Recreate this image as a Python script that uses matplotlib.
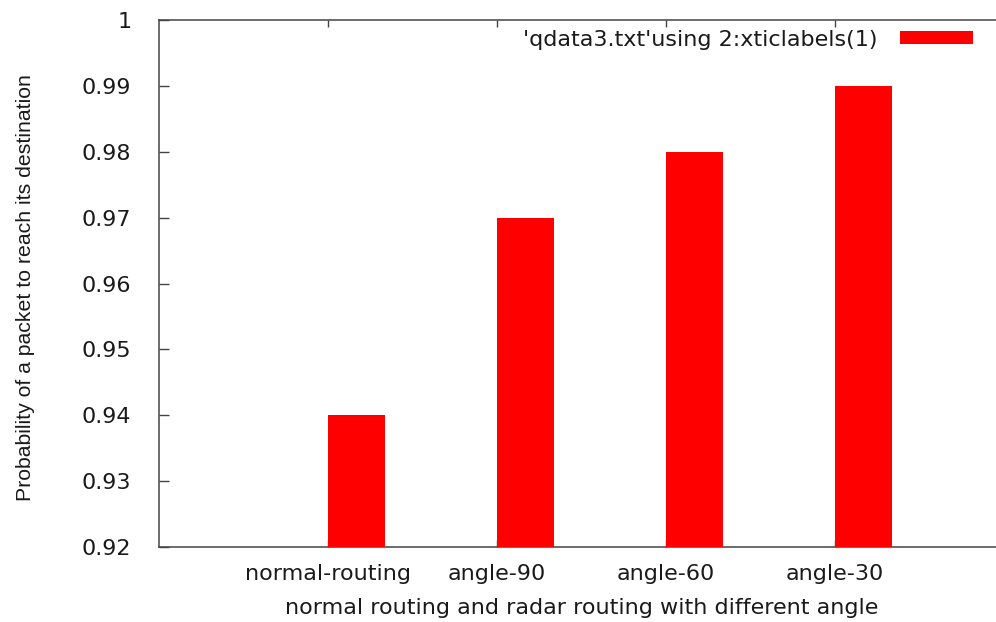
import matplotlib
matplotlib.use("Agg")
import matplotlib.pyplot as plt
from matplotlib.patches import Patch
from matplotlib.ticker import FuncFormatter

categories = ["normal-routing", "angle-90", "angle-60", "angle-30"]
probabilities = [0.94, 0.97, 0.98, 0.99]
y_ticks = [0.92, 0.93, 0.94, 0.95, 0.96, 0.97, 0.98, 0.99, 1.0]
series_label = "'qdata3.txt'using 2:xticlabels(1)"

plt.rcParams["font.family"] = ["DejaVu Sans"]
text_color = "#1a1a1a"
axis_color = "#444444"
fs = 16

fig = plt.figure(figsize=(9.96, 6.22), dpi=100)
ax = fig.add_axes([159 / 996, 75 / 622, 845 / 996, 527 / 622])

x = list(range(len(categories)))
ax.bar(x, probabilities, width=0.337, align="edge", color="#ff0000",
       zorder=3, linewidth=0)

ax.set_xlim(-1, 4)
ax.set_ylim(0.92, 1.0)
ax.set_xticks(x)
ax.set_xticklabels(categories)
ax.set_yticks(y_ticks)
ax.yaxis.set_major_formatter(FuncFormatter(lambda v, p: f"{v:g}"))

for s in ax.spines.values():
    s.set_color(axis_color)
    s.set_linewidth(1.1)

ax.tick_params(axis="both", direction="in", colors=axis_color,
               labelcolor=text_color, labelsize=fs, width=1.0)
ax.tick_params(axis="y", length=7, pad=20, right=False)
ax.tick_params(axis="x", length=5, pad=12, top=True)

ax.set_xlabel("normal routing and radar routing with different angle",
              fontsize=fs, color=text_color, labelpad=10)
ax.set_ylabel("Probability of a packet to reach its destination",
              fontsize=15.3, color=text_color,
              family=["Liberation Sans", "DejaVu Sans"])
ax.yaxis.set_label_coords(-0.147, 0.492)

handle = Patch(facecolor="#ff0000", edgecolor="none")
ax.legend([handle], [series_label], loc="upper right", frameon=False,
          fontsize=fs, markerfirst=False, handlelength=3.3,
          handleheight=0.5, handletextpad=1.0,
          bbox_to_anchor=(979 / 996, (622 - 24) / 622),
          bbox_transform=fig.transFigure,
          borderaxespad=0.0, borderpad=0.25, labelcolor=text_color)

fig.savefig("out.png", dpi=100)
